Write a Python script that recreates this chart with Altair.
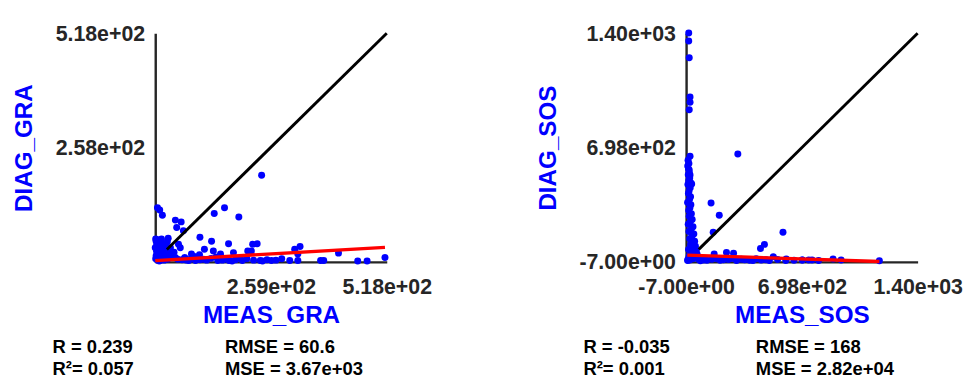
import altair as alt
import pandas as pd

# ---------------- data ----------------
gra_meas = [238, 5, 10, 16, 132, 155, 187, 45, 58, 48, 63, 100, 126, 164, 228, 218, 215, 207, 175, 110,
            130, 146, 52, 56, 29, 19, 81, 99, 312, 324, 319, 410, 283, 301, 319, 370, 377, 453, 474, 514,
            2, 4, 8, 12, 15, 20, 6, 10, 18, 25, 30, 3, 8, 14, 22, 35, 40, 2, 6, 12,
            20, 28, 5, 10, 15, 1, 3, 24, 34, 38, 45, 50, 60, 70, 80, 90, 100, 115, 125, 140,
            155, 165, 180, 195, 205, 220, 235, 250, 260, 1, 3, 0, 7, 14, 27, 33, 18, 42, 9, 20,
            66, 75, 88, 108, 136, 150, 172, 190, 240, 270]
gra_diag = [195, 121, 116, 104, 108, 121, 100, 93, 89, 76, 69, 54, 45, 39, 39, 38, 23, 23, 19, 27,
            23, 16, 38, 30, 52, 38, 16, 14, 27, 33, 16, 18, 5, 1, 1, 1, 1, 0, 0, 8,
            45, 40, 42, 38, 35, 33, 30, 28, 28, 25, 22, 22, 20, 18, 15, 12, 10, 12, 8, 6,
            5, 4, 2, 1, 3, 5, 34, 36, 30, 18, 8, 4, 3, 2, 5, 1, 3, 2, 6, 1,
            4, 1, 3, 1, 5, 2, 1, 3, 1, 50, 48, 30, 48, 50, 44, 14, 10, 20, 0, 2,
            8, 1, 10, 4, 9, 2, 0, 7, 0, 2]

sos_meas = [9, 9, 12, 17, 17, 12, 17, 12, 17, 22, 27,
            308, 145, 195, 158, 583, 446, 470, 239, 282, 164, 524, 603, 888, 937, 701, 740, 1170,
            100, 150, 200, 250, 300, 350, 400, 450, 500, 550, 650, 700,
            90, 120, 180, 220, 270, 330, 380, 420, 480, 600, 760, 800,
            5, 10, 3, 8, 12, 6, 15, 9, 4, 18, 11, 7, 20, 14, 2, 22, 16, 9, 25, 12,
            30, 18, 6, 35, 24, 10, 40, 28, 15, 45, 33, 20, 50, 38, 8, 55, 42, 25, 60, 30,
            12, 48, 65, 20, 35, 5, 70, 15, 2, 80]
sos_diag = [1405, 1355, 1252, 1010, 977, 931, 644, 559, 529, 479, 473,
            658, 356, 280, 176, 176, 75, 101, 51, 47, 41, 25, 11, 11, 5, 5, 5, 0,
            5, 10, 3, 8, 2, 6, 1, 4, 2, 8, 3, 5,
            15, 3, 12, 6, 14, 9, 3, 12, 6, 2, 4, 1,
            620, 600, 585, 565, 545, 530, 510, 495, 470, 450, 430, 415, 395, 380, 360, 345, 325, 310, 290, 275,
            255, 240, 225, 210, 195, 180, 165, 150, 135, 120, 110, 100, 90, 80, 70, 60, 55, 45, 40, 35,
            30, 25, 20, 18, 12, 10, 8, 5, 2, 0]

# reference 1:1 lines and least-squares fits (endpoints)
gra_diag_line = [26, 518]
gra_fit_x = [0, 514]
gra_fit_y = [1, 31]
sos_diag_line = [70, 1403]
sos_fit_x = [0, 1170]
sos_fit_y = [35, -5]

gra_xdomain = [0, 518]
gra_ydomain = [-2, 518]
gra_xticks = [259, 518]
gra_xlabels = ["2.59e+02", "5.18e+02"]
gra_yticks = [258, 518]
gra_ylabels = ["2.58e+02", "5.18e+02"]

sos_domain = [-7, 1403]
sos_ticks = [-7, 698, 1403]
sos_labels = ["-7.00e+00", "6.98e+02", "1.40e+03"]

gra_stats = ["R = 0.239", "R\u00b2= 0.057", "RMSE = 60.6", "MSE = 3.67e+03"]
sos_stats = ["R = -0.035", "R\u00b2= 0.001", "RMSE = 168", "MSE = 2.82e+04"]

# ---------------- style ----------------
W, H = 239, 236
FONT = "Liberation Sans, Arial, sans-serif"
AX = "#262626"
BLUE = "#0000FF"


def label_expr(vals, labels):
    expr = "''"
    for v, l in reversed(list(zip(vals, labels))):
        expr = f"datum.value == {v} ? '{l}' : ({expr})"
    return expr


def make_axis(title, vals, labels, is_y):
    return alt.Axis(
        title=title, values=vals, labelExpr=label_expr(vals, labels),
        titleColor=BLUE, titleFont=FONT, titleFontWeight="bold", titleFontSize=25,
        labelFont=FONT, labelFontWeight="bold", labelFontSize=22, labelColor=AX,
        labelPadding=11 if is_y else 16, titlePadding=19 if is_y else 6,
        labelFlush=False, labelOverlap=False, grid=False, ticks=False,
        domainColor=AX, domainWidth=2.5,
    )


def panel(meas, diag, xdom, ydom, xt, xl, yt, yl, diag_line, fx, fy, xtitle, ytitle, stats):
    pts = pd.DataFrame({"x": meas, "y": diag})
    xs = alt.Scale(domain=xdom, nice=False, zero=False)
    ys = alt.Scale(domain=ydom, nice=False, zero=False)
    xenc = alt.X("x:Q", scale=xs, axis=make_axis(xtitle, xt, xl, False))
    yenc = alt.Y("y:Q", scale=ys, axis=make_axis(ytitle, yt, yl, True))

    points = alt.Chart(pts).mark_circle(size=52, color=BLUE, opacity=1).encode(x=xenc, y=yenc)
    dline = alt.Chart(pd.DataFrame({"x": diag_line, "y": diag_line})).mark_line(
        color="black", strokeWidth=3).encode(x=alt.X("x:Q", scale=xs), y=alt.Y("y:Q", scale=ys))
    fit = alt.Chart(pd.DataFrame({"x": fx, "y": fy})).mark_line(
        color="#FF0000", strokeWidth=3.5).encode(x=alt.X("x:Q", scale=xs), y=alt.Y("y:Q", scale=ys))

    txt_layers = []
    positions = [(-106, 330), (-106, 353), (72, 330), (72, 353)]
    for s, (px, py) in zip(stats, positions):
        txt_layers.append(
            alt.Chart(pd.DataFrame({"t": [s]})).mark_text(
                align="left", baseline="alphabetic", font=FONT, fontWeight="bold",
                fontSize=19, color="black"
            ).encode(text="t:N", x=alt.value(px), y=alt.value(py))
        )
    return alt.layer(points, dline, fit, *txt_layers).properties(width=W, height=H)


left = panel(gra_meas, gra_diag, gra_xdomain, gra_ydomain, gra_xticks, gra_xlabels,
             gra_yticks, gra_ylabels, gra_diag_line, gra_fit_x, gra_fit_y,
             "MEAS_GRA", "DIAG_GRA", gra_stats)
right = panel(sos_meas, sos_diag, sos_domain, sos_domain, sos_ticks, sos_labels,
              sos_ticks, sos_labels, sos_diag_line, sos_fit_x, sos_fit_y,
              "MEAS_SOS", "DIAG_SOS", sos_stats)

chart = alt.hconcat(left, right, spacing=107).configure_view(stroke=None).properties(
    padding={"left": 4, "top": 9, "right": 5, "bottom": 0}
)

chart.save("out.html", embed_options={"renderer": "svg", "actions": False})
